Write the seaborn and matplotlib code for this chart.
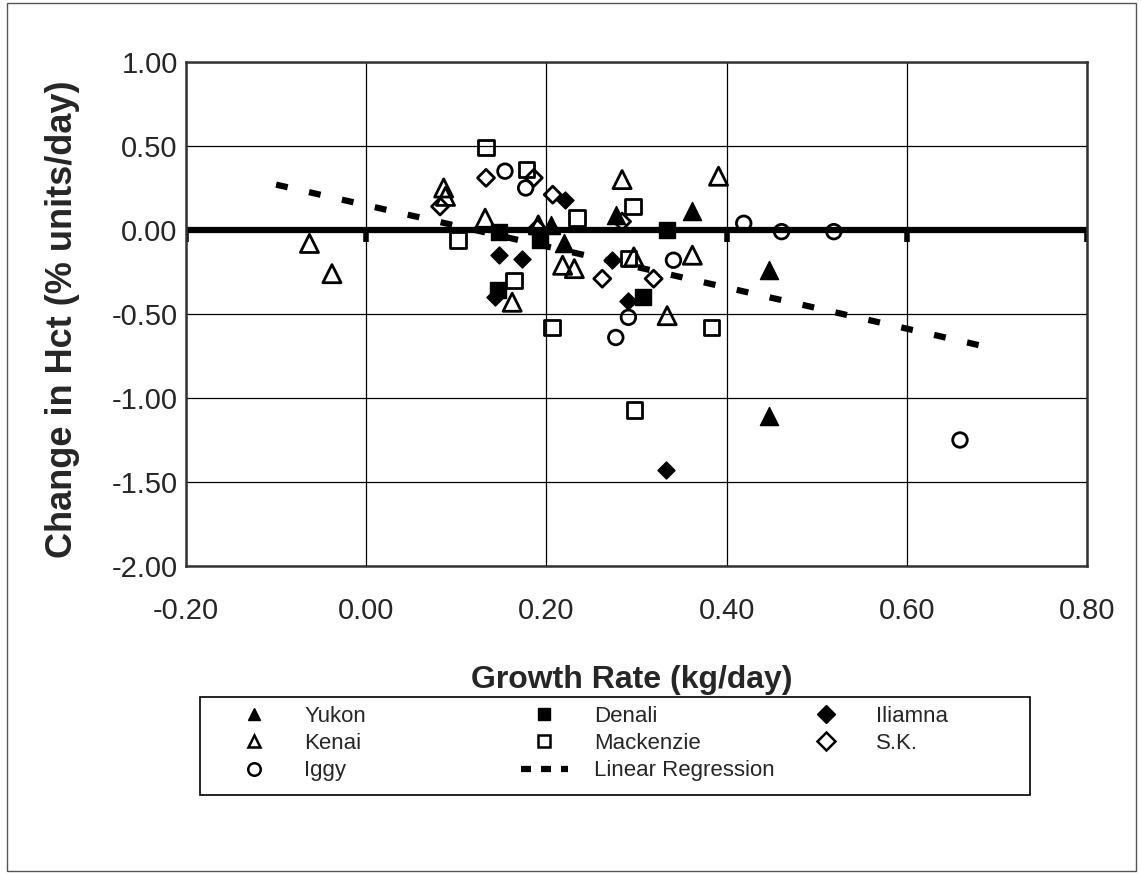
import numpy as np
import pandas as pd
import matplotlib
matplotlib.use('Agg')
import matplotlib.pyplot as plt
from matplotlib.lines import Line2D
from matplotlib.patches import Rectangle
import seaborn as sns

# Growth rate (kg/day) vs change in Hct (% units/day).

yukon_x = [0.277, 0.362, 0.219, 0.205, 0.447, 0.447]
yukon_y = [0.09, 0.11, -0.08, 0.03, -0.24, -1.11]

denali_x = [0.147, 0.193, 0.146, 0.334, 0.307]
denali_y = [-0.01, -0.06, -0.36, 0.00, -0.40]

iliamna_x = [0.147, 0.173, 0.221, 0.143, 0.273, 0.291, 0.333]
iliamna_y = [-0.15, -0.17, 0.18, -0.40, -0.18, -0.42, -1.43]

kenai_x = [-0.063, -0.038, 0.086, 0.088, 0.132, 0.218, 0.231, 0.162,
           0.191, 0.284, 0.391, 0.297, 0.362, 0.334]
kenai_y = [-0.08, -0.26, 0.25, 0.20, 0.07, -0.21, -0.23, -0.43,
           0.03, 0.30, 0.32, -0.16, -0.15, -0.51]

mackenzie_x = [0.133, 0.178, 0.234, 0.102, 0.164, 0.206, 0.296, 0.291, 0.383, 0.298]
mackenzie_y = [0.49, 0.36, 0.07, -0.06, -0.30, -0.58, 0.14, -0.17, -0.58, -1.07]

sk_x = [0.082, 0.133, 0.186, 0.207, 0.262, 0.319, 0.284, 0.190]
sk_y = [0.14, 0.31, 0.31, 0.21, -0.29, -0.29, 0.05, 0.01]

iggy_x = [0.154, 0.177, 0.341, 0.291, 0.277, 0.419, 0.461, 0.519, 0.659]
iggy_y = [0.35, 0.25, -0.18, -0.52, -0.64, 0.04, -0.01, -0.01, -1.25]

# Linear regression line end points
reg_x = [-0.10, 0.70]
reg_y = [0.27, -0.71]

x_ticks = [-0.2, 0.0, 0.2, 0.4, 0.6, 0.8]
y_ticks = [1.0, 0.5, 0.0, -0.5, -1.0, -1.5, -2.0]

groups = ['Yukon', 'Denali', 'Iliamna', 'Kenai', 'Mackenzie', 'S.K.', 'Iggy']
xs = [yukon_x, denali_x, iliamna_x, kenai_x, mackenzie_x, sk_x, iggy_x]
ys = [yukon_y, denali_y, iliamna_y, kenai_y, mackenzie_y, sk_y, iggy_y]
markers = ['^', 's', 'D', '^', 's', 'D', 'o']
filled = [True, True, True, False, False, False, False]
sizes = {'^': 170, 's': 125, 'D': 75, 'o': 110}

frames = []
for g, gx, gy in zip(groups, xs, ys):
    frames.append(pd.DataFrame({'growth': gx, 'hct': gy, 'group': g}))
data = pd.concat(frames, ignore_index=True)

sns.set_style('white')
plt.rcParams['font.family'] = ['Liberation Sans', 'DejaVu Sans']

fig = plt.figure(figsize=(11.41, 8.74), dpi=100)
ax = fig.add_axes([0.163, 0.3524, 0.7897, 0.5767])

ax.set_xlim(-0.2, 0.8)
ax.set_ylim(-2.0, 1.0)
ax.set_xticks(x_ticks)
ax.set_yticks(y_ticks)
ax.set_xticklabels(['%.2f' % t for t in x_ticks], fontsize=21)
ax.set_yticklabels(['%.2f' % t for t in y_ticks], fontsize=21)
ax.tick_params(axis='both', length=0)
ax.tick_params(axis='x', pad=22)
ax.tick_params(axis='y', pad=6)
ax.grid(True, color='black', lw=0.9)
ax.set_axisbelow(True)
for s in ax.spines.values():
    s.set_color('#333333')
    s.set_linewidth(1.8)

# heavy zero line with ticks hanging below it
ax.axhline(0, color='black', lw=4.5, zorder=2)
ax.vlines(x_ticks, -0.07, 0, color='black', lw=4, zorder=2)

# regression line
sns.lineplot(x=reg_x, y=reg_y, ax=ax, color='black', lw=4.5,
             linestyle=(0, (1.9, 3.5)), zorder=3)

for g, m, f in zip(groups, markers, filled):
    sub = data[data['group'] == g]
    if f:
        sns.scatterplot(data=sub, x='growth', y='hct', ax=ax, marker=m,
                        s=sizes[m], color='black', edgecolor='black',
                        linewidth=1.0, zorder=4)
    else:
        sns.scatterplot(data=sub, x='growth', y='hct', ax=ax, marker=m,
                        s=sizes[m], facecolors='none', edgecolor='black',
                        linewidth=2.0, zorder=4)

ax.set_xlabel('Growth Rate (kg/day)', fontsize=23, fontweight='bold', va='center')
ax.xaxis.set_label_coords(0.495, -0.226)
ax.set_ylabel('Change in Hct (% units/day)', fontsize=26, fontweight='bold', va='center')
ax.yaxis.set_label_coords(-0.137, 0.49)

# legend: three columns of equal width inside one box
def handle(g):
    i = groups.index(g)
    m = markers[i]
    if filled[i]:
        return Line2D([], [], marker=m, ls='none', color='black', ms=9)
    return Line2D([], [], marker=m, ls='none', color='black', mfc='none', mew=1.8, ms=9)

reg_handle = Line2D([], [], color='black', lw=4.5, linestyle=(0, (1.6, 1.6)))
columns = [
    ([handle('Yukon'), handle('Kenai'), handle('Iggy')], ['Yukon', 'Kenai', 'Iggy']),
    ([handle('Denali'), handle('Mackenzie'), reg_handle], ['Denali', 'Mackenzie', 'Linear Regression']),
    ([handle('Iliamna'), handle('S.K.')], ['Iliamna', 'S.K.']),
]
col_x = [231, 521, 803]
for (hs, ls), cx in zip(columns, col_x):
    fig.legend(hs, ls, loc='upper left', bbox_to_anchor=(cx / 1141, 1 - 706 / 874),
               frameon=False, borderpad=0, borderaxespad=0,
               handlelength=2.1, handletextpad=1.2, labelspacing=0.28,
               prop={'size': 16})

fig.add_artist(Rectangle((200 / 1141, 1 - 795 / 874), 830 / 1141, 98 / 874,
                         transform=fig.transFigure, fill=False, ec='black', lw=1.2))
fig.add_artist(Rectangle((0.006, 0.004), 0.99, 0.992, transform=fig.transFigure,
                         fill=False, ec='#555555', lw=1.0))

fig.savefig('out.png', dpi=100)
